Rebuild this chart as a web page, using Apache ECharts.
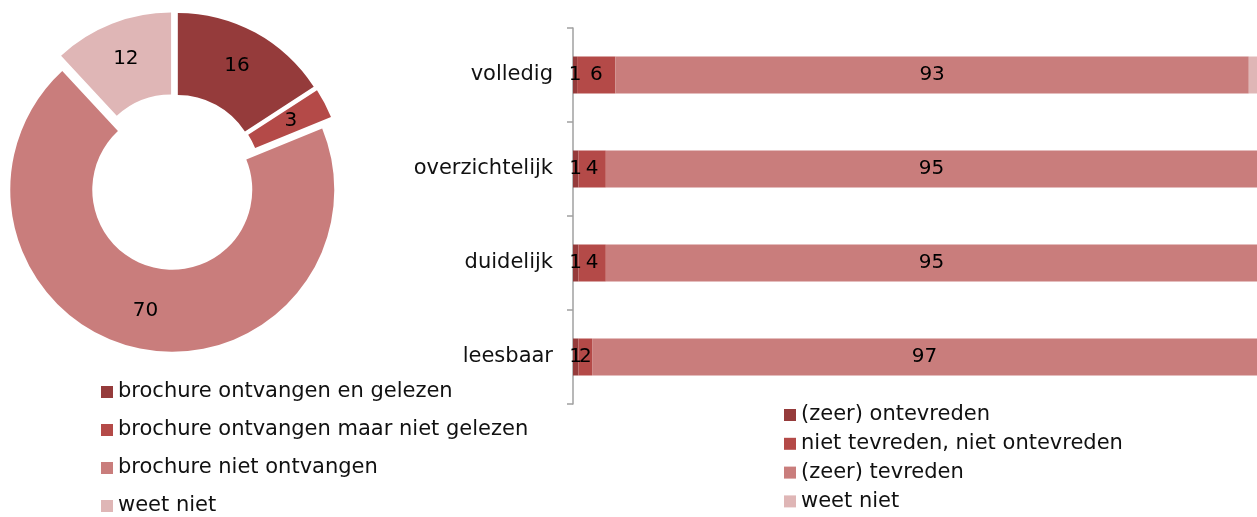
<!DOCTYPE html>
<html>
<head>
<meta charset="utf-8">
<script src="https://cdn.jsdelivr.net/npm/echarts@6/dist/echarts.min.js"></script>
<style>
html,body{margin:0;padding:0;background:#fff;}
#c{width:1257px;height:517px;}
</style>
</head>
<body>
<div id="c"></div>
<script>
// Pie data
var pieNames = ['brochure ontvangen en gelezen', 'brochure ontvangen maar niet gelezen', 'brochure niet ontvangen', 'weet niet'];
var pieValues = [16, 3, 70, 12];

// Bar data
var barCategories = ['volledig', 'overzichtelijk', 'duidelijk', 'leesbaar'];
var barSeriesNames = ['(zeer) ontevreden', 'niet tevreden, niet ontevreden', '(zeer) tevreden', 'weet niet'];
var ontevreden = [0.6, 0.8, 0.8, 0.8];
var neutraal = [5.6, 4.0, 4.0, 2.0];
var tevreden = [92.6, 95.2, 95.2, 97.2];
var weetNiet = [1.2, 0, 0, 0];

var colors = ['#953B3B', '#B44A48', '#C97D7C', '#DFB6B6'];
var FONT = 'DejaVu Sans';

var chart = echarts.init(document.getElementById('c'), null, {renderer: 'canvas'});

var pieData = pieNames.map(function (n, i) {
  return {
    name: n, value: pieValues[i], selected: true,
    itemStyle: {color: colors[i]},
    select: {itemStyle: {color: colors[i], borderWidth: 0}}
  };
});

var barValues = [ontevreden, neutraal, tevreden, weetNiet];
var barSeries = barSeriesNames.map(function (n, i) {
  return {
    type: 'bar', name: n, stack: 'total',
    xAxisIndex: 0, yAxisIndex: 0,
    barWidth: 37,
    data: barValues[i],
    itemStyle: {color: colors[i]},
    emphasis: {disabled: true},
    label: {
      show: i < 3, position: 'inside', color: '#000',
      fontFamily: FONT, fontSize: 20,
      formatter: function (p) { return Math.round(p.value); }
    }
  };
});

var legendText = {fontFamily: FONT, fontSize: 21, color: '#111', lineHeight: 24};

var option = {
  animation: false,
  textStyle: {fontFamily: FONT},
  legend: [
    {
      orient: 'vertical', left: 96, top: 375, height: 300,
      data: pieNames, icon: 'rect', itemWidth: 12, itemHeight: 12,
      itemGap: 14, selectedMode: false,
      textStyle: legendText
    },
    {
      orient: 'vertical', left: 779, top: 398, height: 300,
      data: barSeriesNames, icon: 'rect', itemWidth: 12, itemHeight: 12,
      itemGap: 4.8, selectedMode: false,
      textStyle: legendText
    }
  ],
  grid: {left: 573, right: 0, top: 28, bottom: 113, containLabel: false},
  xAxis: {
    type: 'value', min: 0, max: 100, show: false
  },
  yAxis: {
    type: 'category', data: barCategories, inverse: true,
    axisLine: {show: true, lineStyle: {color: '#A0A0A0', width: 1.5}},
    axisTick: {show: true, length: 6, lineStyle: {color: '#A0A0A0', width: 1.5}},
    axisLabel: {margin: 20, fontFamily: FONT, fontSize: 21, color: '#111'},
    splitLine: {show: false}
  },
  series: [
    {
      type: 'pie',
      center: [174, 182],
      radius: [80, 162],
      startAngle: 90,
      clockwise: true,
      selectedMode: 'multiple',
      selectedOffset: 8,
      avoidLabelOverlap: false,
      emphasis: {disabled: true},
      label: {
        show: true, position: 'inside', color: '#000',
        fontFamily: FONT, fontSize: 20, formatter: '{c}'
      },
      labelLine: {show: false},
      data: pieData
    }
  ].concat(barSeries)
};

chart.setOption(option);
</script>
</body>
</html>
